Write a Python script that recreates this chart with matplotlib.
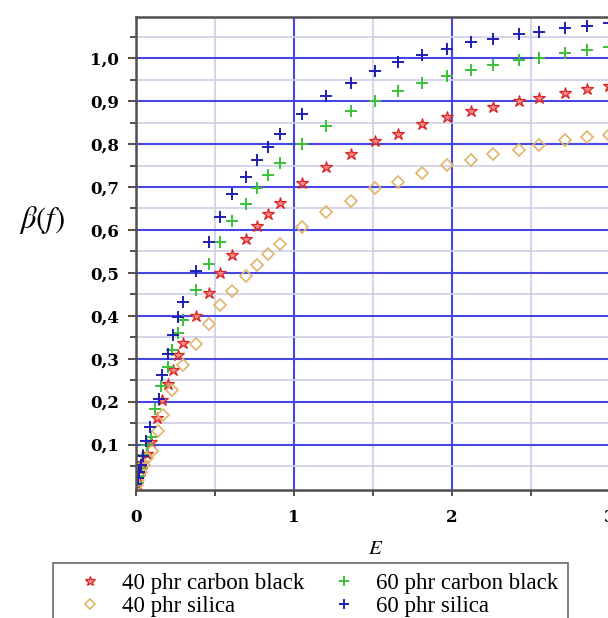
import numpy as np
import matplotlib
matplotlib.use('Agg')
import matplotlib.pyplot as plt
from matplotlib.ticker import MultipleLocator, FixedLocator, FuncFormatter

# dane pomiarowe: E oraz beta(f) dla czterech mieszanek
E_cb40 = [0.004, 0.015, 0.030, 0.045, 0.067, 0.093, 0.130, 0.163, 0.205, 0.232, 0.269, 0.300,
          0.381, 0.462, 0.533, 0.610, 0.694, 0.764, 0.834, 0.914, 1.054, 1.206, 1.365, 1.517,
          1.657, 1.810, 1.968, 2.121, 2.260, 2.425, 2.552, 2.717, 2.857, 2.997]
beta_cb40 = [0.008, 0.022, 0.040, 0.058, 0.079, 0.106, 0.161, 0.203, 0.242, 0.273, 0.308, 0.337,
             0.400, 0.454, 0.499, 0.541, 0.579, 0.610, 0.636, 0.662, 0.709, 0.747, 0.776, 0.806,
             0.824, 0.847, 0.862, 0.876, 0.886, 0.901, 0.908, 0.920, 0.928, 0.935]

E_si40 = [0.004, 0.015, 0.030, 0.050, 0.070, 0.100, 0.142, 0.174, 0.231, 0.300, 0.381, 0.462,
          0.533, 0.610, 0.694, 0.764, 0.834, 0.914, 1.054, 1.206, 1.365, 1.517, 1.657, 1.810,
          1.968, 2.121, 2.260, 2.425, 2.552, 2.717, 2.857, 2.997]
beta_si40 = [0.006, 0.018, 0.035, 0.052, 0.068, 0.085, 0.131, 0.168, 0.228, 0.285, 0.335, 0.380,
             0.426, 0.458, 0.492, 0.518, 0.544, 0.566, 0.607, 0.641, 0.668, 0.697, 0.712, 0.732,
             0.751, 0.763, 0.776, 0.786, 0.798, 0.810, 0.817, 0.821]

E_cb60 = [0.004, 0.012, 0.025, 0.045, 0.070, 0.098, 0.122, 0.160, 0.205, 0.230, 0.267, 0.300,
          0.381, 0.462, 0.533, 0.610, 0.694, 0.764, 0.834, 0.914, 1.054, 1.206, 1.365, 1.517,
          1.657, 1.810, 1.968, 2.121, 2.260, 2.425, 2.552, 2.717, 2.857, 2.997]
beta_cb60 = [0.010, 0.026, 0.046, 0.075, 0.098, 0.118, 0.183, 0.237, 0.281, 0.321, 0.359, 0.391,
             0.461, 0.520, 0.572, 0.621, 0.660, 0.697, 0.727, 0.757, 0.800, 0.843, 0.876, 0.901,
             0.924, 0.943, 0.959, 0.973, 0.984, 0.996, 1.001, 1.013, 1.019, 1.026]

E_si60 = [0.003, 0.010, 0.019, 0.030, 0.046, 0.065, 0.090, 0.146, 0.167, 0.205, 0.233, 0.269,
          0.300, 0.381, 0.462, 0.533, 0.610, 0.694, 0.764, 0.834, 0.910, 1.054, 1.206, 1.365,
          1.517, 1.657, 1.810, 1.968, 2.121, 2.260, 2.425, 2.552, 2.717, 2.857, 2.997]
beta_si60 = [0.008, 0.022, 0.037, 0.053, 0.074, 0.108, 0.141, 0.205, 0.262, 0.310, 0.355, 0.396,
             0.432, 0.505, 0.572, 0.631, 0.684, 0.723, 0.763, 0.794, 0.824, 0.870, 0.912, 0.942,
             0.971, 0.990, 1.008, 1.022, 1.037, 1.044, 1.056, 1.062, 1.070, 1.075, 1.083]

labels = ['40 phr carbon black', '40 phr silica', '60 phr carbon black', '60 phr silica']

plt.rcParams['mathtext.fontset'] = 'stix'

fig = plt.figure(figsize=(6.08, 6.18), dpi=100)
W, H = 608.0, 618.0
ax = fig.add_axes([136 / W, 1 - 490 / H, 473.5 / W, 473 / H])

h1, = ax.plot(E_cb40, beta_cb40, linestyle='none', marker='*', markersize=9,
              markerfacecolor='#f28a8a', markeredgecolor='#dd2222', markeredgewidth=0.9)
h2, = ax.plot(E_si40, beta_si40, linestyle='none', marker='D', markersize=6,
              markerfacecolor='none', markeredgecolor='#e2b469', markeredgewidth=1.2)
h3, = ax.plot(E_cb60, beta_cb60, linestyle='none', marker='+', markersize=9,
              color='#3cbf3c', markeredgewidth=1.4)
h4, = ax.plot(E_si60, beta_si60, linestyle='none', marker='+', markersize=9,
              color='#1f1fb0', markeredgewidth=1.4)

ax.set_xlim(0, 3.0)
ax.set_ylim(-0.006, 1.096)

# siatka: glowne linie niebieskie, pomocnicze jasne
ax.xaxis.set_major_locator(MultipleLocator(1))
ax.xaxis.set_minor_locator(MultipleLocator(0.5))
ax.yaxis.set_major_locator(FixedLocator([0.1 * i for i in range(1, 11)]))
ax.yaxis.set_minor_locator(FixedLocator([0.05 + 0.1 * i for i in range(0, 11)]))
ax.grid(which='major', color='#4646e6', linewidth=1.5)
ax.grid(which='minor', color='#cdcde8', linewidth=1.2)
ax.set_axisbelow(True)

ax.yaxis.set_major_formatter(FuncFormatter(lambda v, p: ('%.1f' % v).replace('.', ',')))
ax.xaxis.set_major_formatter(FuncFormatter(lambda v, p: '%d' % round(v)))

ax.tick_params(axis='both', which='major', labelsize=12, color='#333333')
ax.tick_params(axis='y', which='major', length=6, width=1.2, pad=6)
ax.tick_params(axis='y', which='minor', length=4, width=1.2, color='#333333')
ax.tick_params(axis='x', which='major', length=4, width=1.2, pad=10)
ax.tick_params(axis='x', which='minor', length=4, width=1.2, color='#333333')
for lab in ax.get_xticklabels() + ax.get_yticklabels():
    lab.set_family('DejaVu Serif')
    lab.set_fontweight('bold')

for s in ['left', 'bottom', 'top']:
    ax.spines[s].set_color('#505050')
    ax.spines[s].set_linewidth(1.8)
ax.spines['right'].set_visible(False)

fig.text(42 / W, 1 - 220 / H, r'$\beta(f)$', fontsize=22, ha='center', va='center')
fig.text(376 / W, 1 - 548 / H, r'$E$', fontsize=15, ha='center', va='center')

leg = fig.legend([h1, h2, h3, h4], labels, ncol=2, loc='upper left',
                 bbox_to_anchor=(53 / W, -0.1, 515 / W, 1 - 563 / H + 0.1), mode='expand',
                 borderaxespad=0,
                 prop={'family': 'Liberation Serif', 'size': 16.5}, frameon=True, fancybox=False,
                 borderpad=0.42, labelspacing=0.08, handlelength=2.36, handletextpad=0.22,
                 markerscale=0.85)
leg.get_frame().set_edgecolor('#444444')
leg.get_frame().set_linewidth(1.2)

fig.savefig('out.png', dpi=100)
